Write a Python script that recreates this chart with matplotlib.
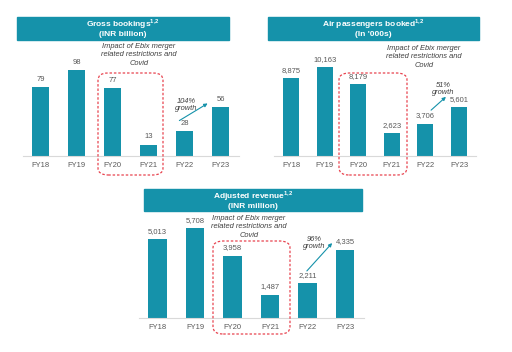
import matplotlib
matplotlib.use('Agg')
import matplotlib.pyplot as plt
from matplotlib.patches import FancyBboxPatch, Rectangle, FancyArrowPatch

plt.rcParams['font.family'] = ['Liberation Sans', 'DejaVu Sans']
plt.rcParams['mathtext.fontset'] = 'custom'
plt.rcParams['mathtext.bf'] = 'Liberation Sans:bold'

years = ['FY18', 'FY19', 'FY20', 'FY21', 'FY22', 'FY23']
gross_bookings = [79, 98, 77, 13, 28, 56]
air_passengers = [8875, 10163, 8179, 2623, 3706, 5601]
adj_revenue = [5013, 5708, 3958, 1487, 2211, 4335]

titles = [('Gross bookings', '(INR billion)'),
          ('Air passengers booked', "(In '000s)"),
          ('Adjusted revenue', '(INR million)')]
growth = ['104%\ngrowth', '51%\ngrowth', '96%\ngrowth']
impact = 'Impact of Ebix merger\nrelated restrictions and\nCovid'

teal = '#1592AA'
grey = '#595959'
red = '#E8434F'
W, H = 512, 352

fig = plt.figure(figsize=(W/100, H/100), dpi=100)

def fx(x):
    return x / W

def fy(y):
    return 1 - y / H

# panel layout in pixels
panels = [
    dict(vals=gross_bookings, fmt='{:d}', ax=(22.5, 238.5, 17, 156), ymax=158.4,
         tbox=(17, 229, 17, 40), bw=0.47, dbox=(98, 163, 73, 175),
         itext=(139, 55), arrow=((177, 122), (210, 102)), gtext=(186, 105)),
    dict(vals=air_passengers, fmt='{:,}', ax=(274.2, 475.8, 17, 156), ymax=15873,
         tbox=(268, 479, 17, 40), bw=0.48, dbox=(339, 407, 73, 175),
         itext=(424, 57), arrow=((429, 112), (448, 95)), gtext=(443, 89)),
    dict(vals=adj_revenue, fmt='{:,}', ax=(138.75, 363.75, 189, 318), ymax=8181,
         tbox=(144, 362, 189, 211), bw=0.5, dbox=(213, 290, 241, 334),
         itext=(249, 227), arrow=((305, 273), (334, 241)), gtext=(314, 243)),
]

for p, (t1, t2), gtxt in zip(panels, titles, growth):
    x0, x1, top, base = p['ax']
    ax = fig.add_axes([fx(x0), fy(base), (x1 - x0)/W, (base - top)/H])
    ax.bar(range(len(years)), p['vals'], width=p['bw'], color=teal)
    ax.set_xlim(-0.5, 5.5)
    ax.set_ylim(0, p['ymax'])
    for sp in ['top', 'right', 'left']:
        ax.spines[sp].set_visible(False)
    ax.spines['bottom'].set_color('#D9D9D9')
    ax.spines['bottom'].set_linewidth(0.8)
    ax.set_yticks([])
    ax.set_xticks(range(len(years)))
    ax.set_xticklabels(years, fontsize=5.5, color=grey)
    ax.tick_params(axis='x', length=0, pad=4)
    ax.patch.set_alpha(0)
    for i, v in enumerate(p['vals']):
        ax.annotate(p['fmt'].format(v), (i, v), xytext=(0, 3), textcoords='offset points',
                    ha='center', va='bottom', fontsize=5.5, color=grey)

    # title box
    tx0, tx1, ty0, ty1 = p['tbox']
    fig.patches.append(Rectangle((fx(tx0), fy(ty1)), (tx1 - tx0)/W, (ty1 - ty0)/H,
                                 transform=fig.transFigure, color=teal, zorder=0))
    tc = (tx0 + tx1)/2
    fig.text(fx(tc), fy(ty0 + 7), t1 + r'$^{\mathbf{1{,}2}}$', ha='center', va='center',
             color='white', fontsize=6, fontweight='bold')
    fig.text(fx(tc), fy(ty0 + 17), t2, ha='center', va='center',
             color='white', fontsize=6, fontweight='bold')

    # dashed box
    dx0, dx1, dy0, dy1 = p['dbox']
    fig.patches.append(FancyBboxPatch((fx(dx0), fy(dy1)), (dx1 - dx0)/W, (dy1 - dy0)/H,
                                      boxstyle='round,pad=0,rounding_size=0.02',
                                      transform=fig.transFigure, fill=False,
                                      edgecolor=red, linestyle=(0, (2, 1.5)),
                                      linewidth=0.9, zorder=5))
    fig.text(fx(p['itext'][0]), fy(p['itext'][1]), impact, ha='center', va='center',
             fontsize=5.4, style='italic', color='#404040', linespacing=1.3)

    # growth arrow
    (ax0, ay0), (ax1, ay1) = p['arrow']
    fig.patches.append(FancyArrowPatch(
        (fx(ax0), fy(ay0)), (fx(ax1), fy(ay1)), transform=fig.transFigure,
        arrowstyle='-|>', mutation_scale=5, color=teal, linewidth=0.8, zorder=6))
    fig.text(fx(p['gtext'][0]), fy(p['gtext'][1]), gtxt, ha='center', va='center',
             fontsize=5.4, style='italic', color='#404040', linespacing=1.1, zorder=7)

fig.savefig('out.png', dpi=100)
